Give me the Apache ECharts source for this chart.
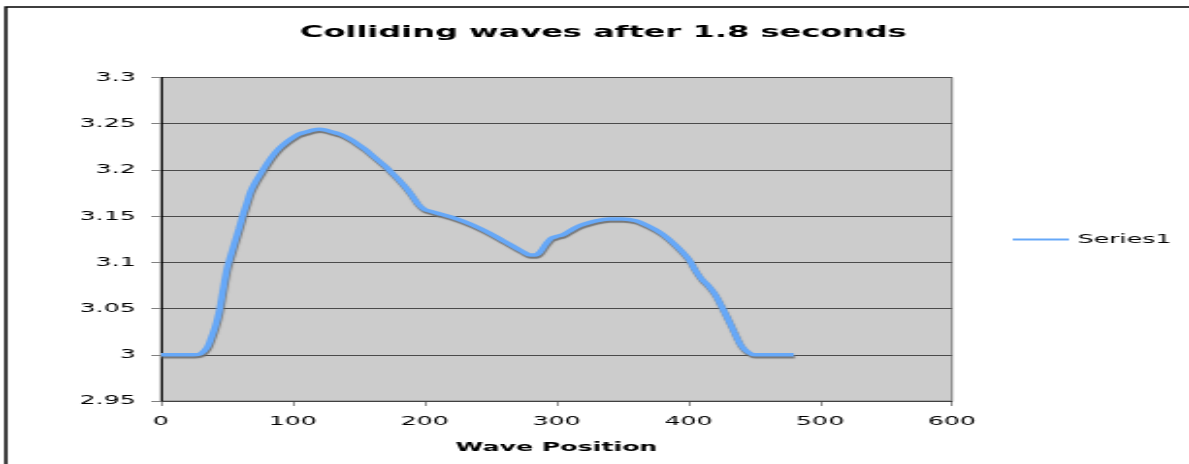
<!DOCTYPE html>
<html>
<head>
<meta charset="utf-8">
<script src="https://cdn.jsdelivr.net/npm/echarts@6/dist/echarts.min.js"></script>
<style>
html,body{margin:0;padding:0;background:#fff;overflow:hidden;width:1189px;height:464px;}
#wrap{position:absolute;left:0;top:0;width:1189px;height:464px;overflow:hidden;}
#chart{position:absolute;left:0;top:0;width:613px;height:464px;transform:scaleX(1.94);transform-origin:0 0;}
</style>
</head>
<body>
<div id="wrap"><div id="chart"></div></div>
<script>
var titleText = 'Colliding waves after 1.8 seconds';
var xAxisName = 'Wave Position';
var seriesName = 'Series1';
var xTicks = [0, 100, 200, 300, 400, 500, 600];
var yTicks = [2.95, 3, 3.05, 3.1, 3.15, 3.2, 3.25, 3.3];

var positions = [0,10,20,25,30,35,38,41,44,47,50,53,56,59,62,65,68,72,76,80,85,90,95,100,105,110,115,120,125,130,135,140,145,150,155,160,165,170,175,180,185,190,195,200,205,210,220,230,240,250,260,270,275,280,284,288,292,296,300,305,310,315,320,330,340,350,360,370,380,390,400,405,410,415,420,425,430,435,440,445,450,460,470,480];
var heights = [3.000,3.000,3.000,3.000,3.001,3.008,3.018,3.030,3.046,3.070,3.093,3.108,3.122,3.136,3.151,3.164,3.177,3.188,3.197,3.206,3.216,3.224,3.230,3.235,3.239,3.241,3.243,3.244,3.243,3.241,3.239,3.236,3.232,3.227,3.222,3.216,3.210,3.204,3.197,3.190,3.182,3.173,3.163,3.157,3.155,3.153,3.149,3.144,3.138,3.131,3.123,3.115,3.111,3.108,3.108,3.112,3.120,3.126,3.128,3.130,3.134,3.138,3.141,3.145,3.147,3.147,3.145,3.139,3.131,3.119,3.104,3.092,3.082,3.075,3.066,3.053,3.039,3.024,3.010,3.003,3.000,3.000,3.000,3.000];

var data = positions.map(function (x, i) { return [x, heights[i]]; });

var chart = echarts.init(document.getElementById('chart'));
var font = '"DejaVu Sans", Verdana, sans-serif';
chart.setOption({
  animation: false,
  backgroundColor: '#ffffff',
  textStyle: { fontFamily: font },
  title: {
    text: titleText,
    left: 154.6,
    top: 24,
    padding: 0,
    textStyle: { fontFamily: font, fontSize: 16.5, fontWeight: 'bold', color: '#000' }
  },
  legend: {
    data: [seriesName],
    left: 522,
    top: 233,
    padding: 0,
    icon: 'rect',
    itemWidth: 29,
    itemHeight: 2,
    itemGap: 5,
    textStyle: { fontFamily: font, fontSize: 13, color: '#000', padding: [0, 0, 0, -0.5] }
  },
  grid: {
    left: 83,
    right: 122.3,
    top: 77.5,
    bottom: 63,
    show: true,
    backgroundColor: '#CCCCCC',
    borderColor: '#808080',
    borderWidth: 1,
    containLabel: false
  },
  xAxis: {
    type: 'value',
    min: xTicks[0],
    max: xTicks[xTicks.length - 1],
    interval: xTicks[1] - xTicks[0],
    name: xAxisName,
    nameLocation: 'middle',
    nameGap: 40,
    nameTextStyle: { fontFamily: font, fontSize: 13, fontWeight: 'bold', color: '#000' },
    axisLine: { show: true, onZero: false, lineStyle: { color: '#404040', width: 1 } },
    axisTick: { show: true, inside: false, length: 5, lineStyle: { color: '#404040', width: 0.6 } },
    axisLabel: { fontFamily: font, fontSize: 13, color: '#000', margin: 14 },
    splitLine: { show: false }
  },
  yAxis: {
    type: 'value',
    min: yTicks[0],
    max: yTicks[yTicks.length - 1],
    interval: 0.05,
    axisLine: { show: true, onZero: false, lineStyle: { color: '#000', width: 1 } },
    axisTick: { show: true, inside: false, length: 5, lineStyle: { color: '#808080', width: 1 } },
    axisLabel: {
      fontFamily: font, fontSize: 13, color: '#000', margin: 13,
      formatter: function (v) { return String(+v.toFixed(2)); }
    },
    splitLine: { show: true, lineStyle: { color: '#4a4a4a', width: 1 } }
  },
  graphic: [{
    type: 'rect',
    silent: true,
    z: 100,
    shape: { x: 3, y: 7, width: 800, height: 600 },
    style: { fill: 'none', stroke: '#000', lineWidth: 1.5 }
  }],
  series: [{
    name: seriesName,
    type: 'line',
    data: data,
    smooth: 0.3,
    showSymbol: false,
    symbol: 'none',
    itemStyle: { color: '#66A8F8' },
    lineStyle: {
      color: '#66A8F8',
      width: 3.5,
      shadowColor: 'rgba(110,110,110,0.9)',
      shadowBlur: 1,
      shadowOffsetX: 0.5,
      shadowOffsetY: 2
    }
  }]
});
</script>
</body>
</html>
